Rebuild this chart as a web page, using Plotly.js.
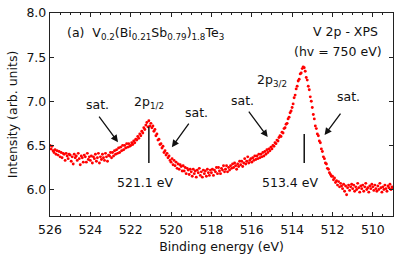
<!DOCTYPE html>
<html>
<head>
<meta charset="utf-8">
<script src="https://cdn.plot.ly/plotly-3.0.1.min.js"></script>
<style>html,body{margin:0;padding:0;background:#fff;}#chart{width:407px;height:255px;}</style>
</head>
<body>
<div id="chart"></div>
<script>
// Binding energy (eV), 0.05 eV steps
const energy = [
526.00,525.95,525.90,525.85,525.80,525.75,525.70,525.65,525.60,525.55,525.50,525.45,525.40,525.35,525.30,525.25,525.20,525.15,525.10,525.05,
525.00,524.95,524.90,524.85,524.80,524.75,524.70,524.65,524.60,524.55,524.50,524.45,524.40,524.35,524.30,524.25,524.20,524.15,524.10,524.05,
524.00,523.95,523.90,523.85,523.80,523.75,523.70,523.65,523.60,523.55,523.50,523.45,523.40,523.35,523.30,523.25,523.20,523.15,523.10,523.05,
523.00,522.95,522.90,522.85,522.80,522.75,522.70,522.65,522.60,522.55,522.50,522.45,522.40,522.35,522.30,522.25,522.20,522.15,522.10,522.05,
522.00,521.95,521.90,521.85,521.80,521.75,521.70,521.65,521.60,521.55,521.50,521.45,521.40,521.35,521.30,521.25,521.20,521.15,521.10,521.05,
521.00,520.95,520.90,520.85,520.80,520.75,520.70,520.65,520.60,520.55,520.50,520.45,520.40,520.35,520.30,520.25,520.20,520.15,520.10,520.05,
520.00,519.95,519.90,519.85,519.80,519.75,519.70,519.65,519.60,519.55,519.50,519.45,519.40,519.35,519.30,519.25,519.20,519.15,519.10,519.05,
519.00,518.95,518.90,518.85,518.80,518.75,518.70,518.65,518.60,518.55,518.50,518.45,518.40,518.35,518.30,518.25,518.20,518.15,518.10,518.05,
518.00,517.95,517.90,517.85,517.80,517.75,517.70,517.65,517.60,517.55,517.50,517.45,517.40,517.35,517.30,517.25,517.20,517.15,517.10,517.05,
517.00,516.95,516.90,516.85,516.80,516.75,516.70,516.65,516.60,516.55,516.50,516.45,516.40,516.35,516.30,516.25,516.20,516.15,516.10,516.05,
516.00,515.95,515.90,515.85,515.80,515.75,515.70,515.65,515.60,515.55,515.50,515.45,515.40,515.35,515.30,515.25,515.20,515.15,515.10,515.05,
515.00,514.95,514.90,514.85,514.80,514.75,514.70,514.65,514.60,514.55,514.50,514.45,514.40,514.35,514.30,514.25,514.20,514.15,514.10,514.05,
514.00,513.95,513.90,513.85,513.80,513.75,513.70,513.65,513.60,513.55,513.50,513.45,513.40,513.35,513.30,513.25,513.20,513.15,513.10,513.05,
513.00,512.95,512.90,512.85,512.80,512.75,512.70,512.65,512.60,512.55,512.50,512.45,512.40,512.35,512.30,512.25,512.20,512.15,512.10,512.05,
512.00,511.95,511.90,511.85,511.80,511.75,511.70,511.65,511.60,511.55,511.50,511.45,511.40,511.35,511.30,511.25,511.20,511.15,511.10,511.05,
511.00,510.95,510.90,510.85,510.80,510.75,510.70,510.65,510.60,510.55,510.50,510.45,510.40,510.35,510.30,510.25,510.20,510.15,510.10,510.05,
510.00,509.95,509.90,509.85,509.80,509.75,509.70,509.65,509.60,509.55,509.50,509.45,509.40,509.35,509.30,509.25,509.20,509.15,509.10,509.05,
509.00
];
// Intensity (arb. units)
const intensity = [
6.50,6.46,6.49,6.44,6.42,6.45,6.40,6.44,6.39,6.43,6.37,6.42,6.36,6.41,6.40,6.33,6.41,6.38,6.35,6.40,
6.39,6.32,6.37,6.29,6.40,6.36,6.38,6.33,6.41,6.35,6.28,6.38,6.36,6.31,6.39,6.37,6.31,6.41,6.34,6.37,
6.33,6.38,6.30,6.37,6.35,6.40,6.32,6.36,6.41,6.30,6.37,6.34,6.40,6.36,6.33,6.41,6.37,6.32,6.39,6.38,
6.42,6.36,6.42,6.38,6.44,6.40,6.45,6.41,6.47,6.42,6.48,6.44,6.50,6.45,6.50,6.47,6.52,6.48,6.52,6.49,
6.50,6.53,6.51,6.55,6.53,6.57,6.56,6.60,6.58,6.63,6.61,6.66,6.64,6.70,6.68,6.73,6.76,6.71,6.78,6.72,
6.75,6.70,6.72,6.66,6.68,6.61,6.63,6.56,6.57,6.51,6.52,6.47,6.49,6.42,6.44,6.39,6.41,6.36,6.38,6.33,
6.31,6.35,6.28,6.33,6.27,6.31,6.24,6.29,6.23,6.28,6.26,6.21,6.27,6.21,6.25,6.18,6.24,6.22,6.17,6.23,
6.20,6.15,6.23,6.18,6.21,6.14,6.22,6.19,6.24,6.16,6.20,6.14,6.22,6.18,6.21,6.15,6.23,6.19,6.16,6.22,
6.19,6.23,6.16,6.22,6.20,6.25,6.18,6.25,6.21,6.18,6.24,6.22,6.27,6.20,6.23,6.27,6.20,6.25,6.22,6.27,
6.24,6.29,6.25,6.30,6.27,6.23,6.29,6.26,6.32,6.28,6.32,6.26,6.30,6.35,6.29,6.32,6.37,6.30,6.33,6.35,
6.31,6.36,6.33,6.38,6.34,6.38,6.35,6.40,6.36,6.40,6.37,6.42,6.38,6.43,6.40,6.45,6.42,6.46,6.44,6.48,
6.46,6.50,6.49,6.53,6.52,6.56,6.55,6.59,6.61,6.60,6.65,6.64,6.69,6.70,6.74,6.75,6.80,6.82,6.87,6.89,
6.93,6.97,7.04,7.07,7.14,7.17,7.23,7.25,7.31,7.32,7.37,7.39,7.38,7.34,7.27,7.24,7.17,7.13,7.05,7.00,
6.93,6.85,6.80,6.72,6.69,6.63,6.61,6.55,6.53,6.46,6.43,6.37,6.35,6.30,6.29,6.24,6.23,6.19,6.17,6.15,
6.15,6.11,6.13,6.08,6.10,6.05,6.09,6.03,6.07,6.04,6.01,6.06,5.98,6.04,5.94,6.02,6.05,5.99,6.03,6.06,
6.01,6.05,5.98,6.03,6.00,6.07,6.02,5.97,6.04,6.01,6.05,5.98,6.03,6.07,6.00,6.02,5.97,6.04,6.01,6.06,
6.03,5.99,6.05,6.01,5.98,6.04,6.00,6.07,6.02,5.97,6.03,6.00,6.05,6.01,5.98,6.04,6.02,6.06,6.00,6.03,
6.02
];
const xTickVals = [526,524,522,520,518,516,514,512,510];
const xTickText = ['526','524','522','520','518','516','514','512','510'];
const yTickVals = [6.0,6.5,7.0,7.5,8.0];
const yTickText = ['6.0','6.5','7.0','7.5','8.0'];
const peakPositions = [521.1, 513.4];
const peakLabels = ['521.1 eV', '513.4 eV'];

const FONT = 'DejaVu Sans, sans-serif';
const FS = 12.5;
const TXT = '#111';

const trace = {
  x: energy, y: intensity, type: 'scatter', mode: 'markers',
  marker: {color: '#ff0000', size: 2.9},
  hoverinfo: 'skip'
};

function txt(x, y, text, xanchor) {
  return {x: x, y: y, xref: 'x', yref: 'y', text: text, showarrow: false,
    xanchor: xanchor || 'center', yanchor: 'middle',
    font: {family: FONT, size: FS, color: TXT}};
}
function arrow(x, y, ax, ay) {
  return {x: x, y: y, xref: 'x', yref: 'y', ax: ax, ay: ay, text: '',
    showarrow: true, arrowhead: 2, arrowsize: 1.1, arrowwidth: 1.3, arrowcolor: '#111', standoff: 0};
}

const annotations = [
  txt(525.26, 7.77, '(a)  V<sub>0.2</sub>(Bi<sub>0.21</sub>Sb<sub>0.79</sub>)<sub>1.8</sub>Te<sub>3</sub>', 'left'),
  txt(509.66, 7.785, 'V 2p - XPS', 'right'),
  txt(509.47, 7.56, '(hv = 750 eV)', 'right'),
  txt(521.1, 6.99, '2p<sub>1/2</sub>'),
  txt(515.0, 7.23, '2p<sub>3/2</sub>'),
  txt(523.67, 6.968, 'sat.'),
  txt(518.72, 6.87, 'sat.'),
  txt(516.45, 7.01, 'sat.'),
  txt(511.2, 7.05, 'sat.'),
  txt(521.3, 6.08, peakLabels[0]),
  txt(514.1, 6.08, peakLabels[1]),
  arrow(522.63, 6.537, -20, -27),
  arrow(519.96, 6.48, 18, -25),
  arrow(515.21, 6.594, -20, -27),
  arrow(512.39, 6.617, 17, -23)
];

const shapes = [
  {type: 'line', xref: 'x', yref: 'y', x0: peakPositions[0], x1: peakPositions[0], y0: 6.30, y1: 6.71, line: {color: '#111', width: 1.5}},
  {type: 'line', xref: 'x', yref: 'y', x0: peakPositions[1], x1: peakPositions[1], y0: 6.30, y1: 6.63, line: {color: '#111', width: 1.5}}
];

const axisCommon = {
  showline: true, linecolor: '#222', linewidth: 1.2, mirror: 'allticks',
  ticks: 'inside', ticklen: 4, tickwidth: 1, tickcolor: '#222',
  showgrid: false, zeroline: false,
  tickfont: {family: FONT, size: FS, color: TXT}
};

const layout = {
  width: 407, height: 255,
  margin: {l: 50, r: 14, t: 13, b: 39},
  paper_bgcolor: '#fff', plot_bgcolor: '#fff',
  showlegend: false,
  xaxis: Object.assign({}, axisCommon, {
    range: [526, 509], tickmode: 'array', tickvals: xTickVals, ticktext: xTickText,
    ticklabelstandoff: 2,
    minor: {dtick: 0.5, tick0: 526, ticks: 'inside', ticklen: 2, tickcolor: '#222', showgrid: false},
    title: {text: 'Binding energy (eV)', font: {family: FONT, size: FS, color: TXT}, standoff: 6}
  }),
  yaxis: Object.assign({}, axisCommon, {
    range: [5.7, 8.0], tickmode: 'array', tickvals: yTickVals, ticktext: yTickText,
    title: {text: 'Intensity (arb. units)', font: {family: FONT, size: FS, color: TXT}, standoff: 6}
  }),
  annotations: annotations,
  shapes: shapes
};

Plotly.newPlot('chart', [trace], layout, {staticPlot: true, displayModeBar: false});
</script>
</body>
</html>
